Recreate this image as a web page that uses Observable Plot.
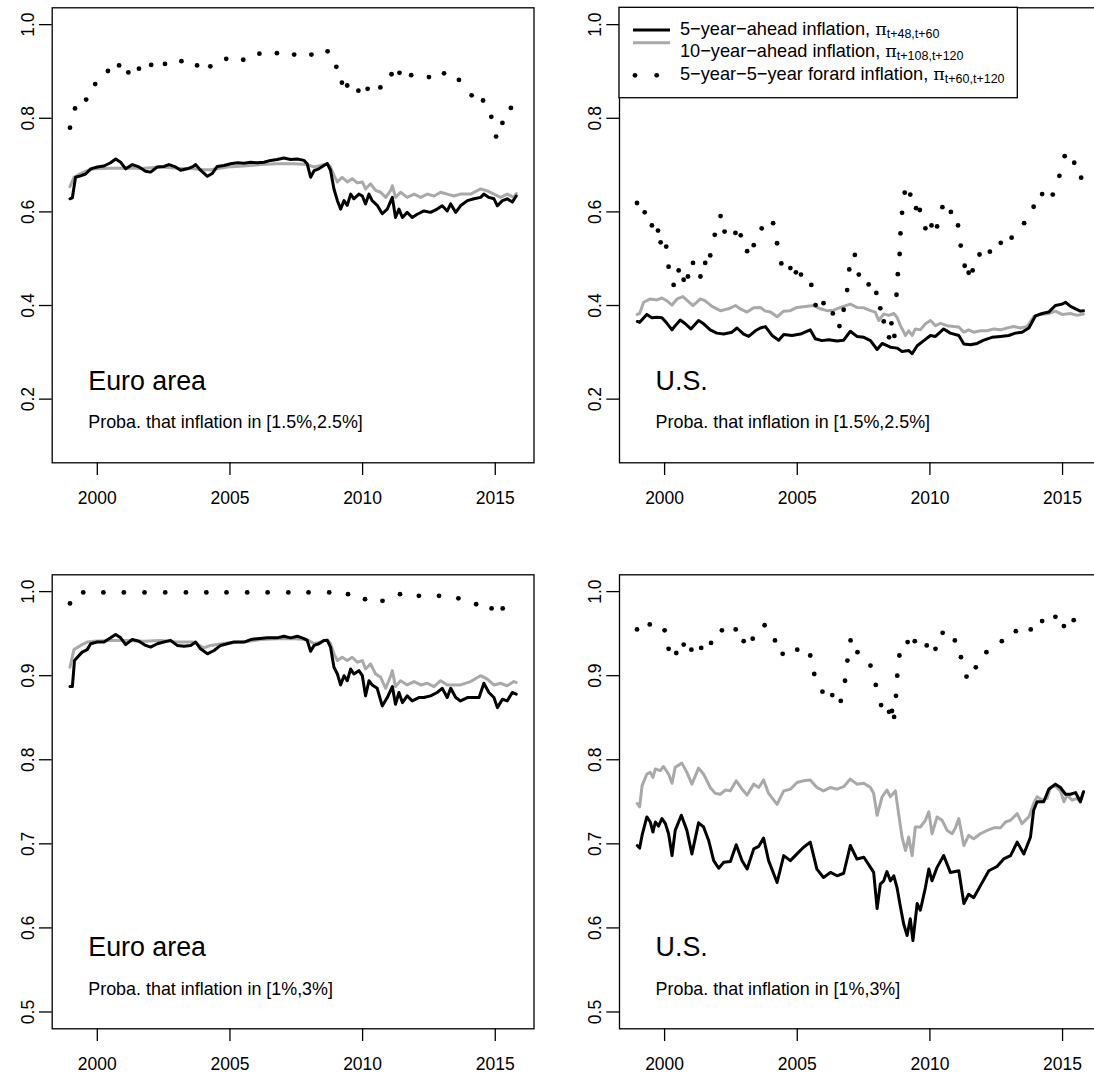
<!DOCTYPE html>
<html><head><meta charset="utf-8">
<script src="https://cdn.jsdelivr.net/npm/d3@7"></script>
<script src="https://cdn.jsdelivr.net/npm/@observablehq/plot@0.6"></script>
<style>
html,body{margin:0;padding:0;background:#fff;}
#wrap{position:relative;width:1094px;height:1075px;overflow:hidden;background:#fff;}
#wrap > svg{position:absolute;}
</style></head><body><div id="wrap"></div>
<script>
// ---------- DATA ----------
const xTicks = [2000, 2005, 2010, 2015];
const yTicksTop = [0.2, 0.4, 0.6, 0.8, 1.0];
const yTicksBottom = [0.5, 0.6, 0.7, 0.8, 0.9, 1.0];
const regions = ["Euro area", "U.S."];
const bands = ["Proba. that inflation in [1.5%,2.5%]", "Proba. that inflation in [1%,3%]"];

// Euro area, [1.5%,2.5%]
const euroNarrow5y = [[1998.97,0.628],[1999.06,0.630],[1999.18,0.674],[1999.37,0.677],[1999.56,0.681],[1999.75,0.692],[2000.00,0.696],[2000.25,0.698],[2000.50,0.705],[2000.69,0.713],[2000.88,0.706],[2001.07,0.692],[2001.32,0.701],[2001.57,0.696],[2001.82,0.687],[2002.01,0.685],[2002.26,0.696],[2002.51,0.697],[2002.70,0.701],[2002.95,0.696],[2003.14,0.689],[2003.39,0.692],[2003.58,0.696],[2003.71,0.701],[2003.89,0.689],[2004.15,0.676],[2004.33,0.682],[2004.52,0.697],[2004.77,0.699],[2005.03,0.703],[2005.28,0.705],[2005.53,0.704],[2005.78,0.706],[2006.03,0.705],[2006.28,0.706],[2006.53,0.710],[2006.78,0.712],[2007.03,0.715],[2007.29,0.712],[2007.54,0.713],[2007.79,0.710],[2007.91,0.703],[2008.04,0.674],[2008.17,0.688],[2008.35,0.692],[2008.54,0.699],[2008.67,0.703],[2008.79,0.689],[2008.92,0.649],[2009.05,0.624],[2009.17,0.606],[2009.30,0.624],[2009.42,0.614],[2009.55,0.638],[2009.67,0.628],[2009.86,0.638],[2009.99,0.634],[2010.11,0.617],[2010.24,0.638],[2010.36,0.624],[2010.55,0.614],[2010.74,0.596],[2010.93,0.606],[2011.12,0.631],[2011.24,0.588],[2011.37,0.606],[2011.50,0.588],[2011.68,0.599],[2011.87,0.588],[2012.06,0.595],[2012.31,0.602],[2012.56,0.599],[2012.81,0.606],[2013.00,0.613],[2013.19,0.602],[2013.32,0.617],[2013.51,0.599],[2013.69,0.613],[2013.95,0.624],[2014.20,0.628],[2014.45,0.631],[2014.57,0.638],[2014.76,0.631],[2014.95,0.628],[2015.08,0.613],[2015.27,0.624],[2015.45,0.628],[2015.64,0.621],[2015.79,0.634]];
const euroNarrow10y = [[1998.97,0.654],[1999.12,0.674],[1999.37,0.682],[1999.62,0.688],[1999.87,0.692],[2000.50,0.693],[2001.13,0.694],[2001.76,0.693],[2002.39,0.696],[2003.01,0.693],[2003.64,0.692],[2004.02,0.690],[2004.27,0.690],[2004.90,0.696],[2005.53,0.698],[2006.16,0.701],[2006.78,0.703],[2007.41,0.703],[2007.91,0.701],[2008.17,0.696],[2008.42,0.699],[2008.67,0.703],[2008.79,0.696],[2008.92,0.678],[2009.05,0.664],[2009.23,0.674],[2009.42,0.664],[2009.61,0.671],[2009.80,0.662],[2009.99,0.664],[2010.11,0.649],[2010.30,0.660],[2010.49,0.646],[2010.68,0.642],[2010.87,0.631],[2011.06,0.646],[2011.12,0.656],[2011.24,0.631],[2011.43,0.642],[2011.68,0.631],[2011.94,0.638],[2012.19,0.631],[2012.44,0.638],[2012.69,0.634],[2012.94,0.642],[2013.19,0.638],[2013.44,0.634],[2013.69,0.638],[2014.07,0.638],[2014.45,0.649],[2014.70,0.645],[2014.95,0.638],[2015.20,0.631],[2015.45,0.638],[2015.70,0.631],[2015.79,0.639]];
const euroNarrow5y5y = [[1998.97,0.780],[1999.16,0.821],[1999.58,0.840],[1999.92,0.873],[2000.40,0.901],[2000.82,0.913],[2001.17,0.898],[2001.57,0.906],[2002.03,0.914],[2002.55,0.916],[2003.17,0.922],[2003.76,0.913],[2004.26,0.911],[2004.86,0.927],[2005.50,0.925],[2006.11,0.938],[2006.77,0.939],[2007.42,0.936],[2008.07,0.936],[2008.68,0.943],[2009.01,0.910],[2009.22,0.876],[2009.42,0.870],[2009.84,0.859],[2010.19,0.863],[2010.67,0.866],[2011.09,0.894],[2011.39,0.897],[2011.83,0.892],[2012.50,0.888],[2013.07,0.896],[2013.63,0.882],[2014.11,0.849],[2014.54,0.838],[2014.85,0.803],[2015.03,0.761],[2015.27,0.790],[2015.59,0.822]];

// Euro area, [1%,3%]
const euroWide5y = [[1998.97,0.887],[1999.06,0.887],[1999.14,0.918],[1999.25,0.922],[1999.43,0.928],[1999.62,0.931],[1999.75,0.938],[2000.00,0.940],[2000.25,0.940],[2000.50,0.945],[2000.69,0.949],[2000.88,0.945],[2001.07,0.937],[2001.32,0.943],[2001.57,0.941],[2001.82,0.936],[2002.01,0.934],[2002.26,0.938],[2002.51,0.940],[2002.76,0.942],[2003.01,0.936],[2003.27,0.935],[2003.52,0.936],[2003.71,0.940],[2003.89,0.932],[2004.15,0.926],[2004.40,0.930],[2004.65,0.936],[2004.90,0.938],[2005.15,0.940],[2005.53,0.940],[2005.78,0.943],[2006.03,0.944],[2006.41,0.945],[2006.78,0.945],[2007.03,0.947],[2007.29,0.945],[2007.54,0.947],[2007.79,0.944],[2007.91,0.942],[2008.04,0.929],[2008.17,0.936],[2008.35,0.938],[2008.54,0.942],[2008.67,0.942],[2008.79,0.934],[2008.92,0.910],[2009.05,0.902],[2009.17,0.889],[2009.30,0.900],[2009.42,0.894],[2009.55,0.908],[2009.67,0.902],[2009.86,0.906],[2009.99,0.900],[2010.11,0.876],[2010.24,0.894],[2010.36,0.889],[2010.55,0.885],[2010.74,0.864],[2010.93,0.874],[2011.12,0.887],[2011.24,0.866],[2011.37,0.880],[2011.50,0.868],[2011.68,0.876],[2011.87,0.870],[2012.12,0.874],[2012.31,0.874],[2012.56,0.876],[2012.81,0.880],[2013.00,0.885],[2013.19,0.874],[2013.32,0.885],[2013.51,0.874],[2013.69,0.870],[2013.95,0.874],[2014.20,0.874],[2014.39,0.874],[2014.57,0.891],[2014.76,0.880],[2014.95,0.874],[2015.08,0.862],[2015.27,0.872],[2015.45,0.870],[2015.64,0.880],[2015.79,0.878]];
const euroWide10y = [[1998.97,0.910],[1999.12,0.931],[1999.37,0.936],[1999.62,0.940],[1999.87,0.941],[2000.50,0.942],[2001.13,0.942],[2001.76,0.941],[2002.39,0.942],[2003.01,0.940],[2003.64,0.940],[2004.02,0.933],[2004.27,0.936],[2004.90,0.939],[2005.53,0.940],[2006.16,0.943],[2006.78,0.944],[2007.41,0.944],[2007.91,0.943],[2008.17,0.938],[2008.42,0.940],[2008.67,0.943],[2008.79,0.938],[2008.92,0.926],[2009.05,0.918],[2009.23,0.922],[2009.42,0.918],[2009.61,0.922],[2009.80,0.916],[2009.99,0.918],[2010.11,0.908],[2010.30,0.914],[2010.49,0.902],[2010.68,0.898],[2010.87,0.885],[2011.06,0.900],[2011.12,0.906],[2011.24,0.887],[2011.43,0.894],[2011.68,0.889],[2011.94,0.893],[2012.19,0.889],[2012.44,0.891],[2012.69,0.887],[2012.94,0.894],[2013.19,0.889],[2013.44,0.889],[2013.69,0.889],[2014.07,0.893],[2014.45,0.900],[2014.70,0.896],[2014.95,0.889],[2015.20,0.891],[2015.45,0.888],[2015.70,0.893],[2015.79,0.892]];
const euroWide5y5y = [[1998.97,0.986],[1999.47,0.999],[2000.23,0.999],[2001.00,0.999],[2001.78,0.999],[2002.56,0.999],[2003.34,0.999],[2004.11,0.999],[2004.87,0.999],[2005.65,0.999],[2006.42,0.999],[2007.20,0.999],[2007.96,0.999],[2008.74,0.999],[2009.45,0.997],[2010.09,0.991],[2010.75,0.989],[2011.41,0.997],[2012.12,0.995],[2012.88,0.995],[2013.61,0.992],[2014.28,0.985],[2014.86,0.980],[2015.28,0.980]];

// U.S., [1.5%,2.5%]
const usNarrow5y = [[1998.97,0.366],[1999.06,0.364],[1999.33,0.381],[1999.52,0.374],[1999.71,0.375],[1999.90,0.374],[2000.09,0.362],[2000.28,0.348],[2000.40,0.357],[2000.59,0.369],[2000.78,0.361],[2000.99,0.350],[2001.28,0.368],[2001.47,0.361],[2001.72,0.348],[2001.97,0.341],[2002.23,0.339],[2002.54,0.343],[2002.73,0.352],[2002.98,0.339],[2003.17,0.334],[2003.42,0.346],[2003.61,0.352],[2003.80,0.355],[2004.05,0.336],[2004.30,0.326],[2004.49,0.338],[2004.80,0.336],[2005.12,0.339],[2005.49,0.348],[2005.68,0.329],[2005.93,0.325],[2006.19,0.327],[2006.50,0.324],[2006.75,0.326],[2007.00,0.345],[2007.25,0.334],[2007.51,0.332],[2007.76,0.325],[2008.01,0.306],[2008.20,0.319],[2008.51,0.311],[2008.76,0.309],[2008.95,0.302],[2009.20,0.304],[2009.33,0.297],[2009.52,0.314],[2009.77,0.325],[2010.02,0.336],[2010.21,0.334],[2010.52,0.350],[2010.77,0.341],[2011.09,0.336],[2011.28,0.318],[2011.53,0.316],[2011.78,0.319],[2012.03,0.326],[2012.34,0.332],[2012.66,0.334],[2012.97,0.336],[2013.22,0.341],[2013.47,0.343],[2013.73,0.352],[2013.98,0.378],[2014.23,0.383],[2014.48,0.386],[2014.73,0.400],[2014.98,0.403],[2015.11,0.407],[2015.30,0.398],[2015.49,0.393],[2015.67,0.388],[2015.79,0.389]];
const usNarrow10y = [[1998.97,0.381],[1999.06,0.383],[1999.21,0.407],[1999.46,0.414],[1999.71,0.412],[1999.90,0.416],[2000.09,0.410],[2000.28,0.401],[2000.47,0.414],[2000.69,0.419],[2000.87,0.410],[2001.07,0.400],[2001.35,0.414],[2001.53,0.410],[2001.79,0.398],[2002.10,0.389],[2002.41,0.393],[2002.67,0.400],[2002.85,0.393],[2003.11,0.386],[2003.36,0.395],[2003.61,0.396],[2003.80,0.388],[2003.99,0.386],[2004.24,0.376],[2004.49,0.388],[2004.74,0.389],[2004.99,0.396],[2005.31,0.398],[2005.62,0.400],[2005.87,0.393],[2006.12,0.389],[2006.37,0.390],[2006.63,0.396],[2007.00,0.403],[2007.25,0.396],[2007.51,0.395],[2007.76,0.389],[2007.94,0.386],[2008.07,0.368],[2008.26,0.382],[2008.45,0.379],[2008.64,0.383],[2008.76,0.375],[2008.89,0.357],[2009.08,0.336],[2009.20,0.346],[2009.33,0.336],[2009.45,0.350],[2009.64,0.348],[2009.83,0.361],[2010.02,0.368],[2010.21,0.357],[2010.40,0.362],[2010.65,0.357],[2010.90,0.355],[2011.09,0.354],[2011.28,0.343],[2011.46,0.348],[2011.65,0.343],[2011.90,0.346],[2012.16,0.346],[2012.41,0.350],[2012.66,0.348],[2012.91,0.352],[2013.16,0.355],[2013.41,0.352],[2013.66,0.355],[2013.91,0.376],[2014.17,0.381],[2014.48,0.383],[2014.73,0.388],[2014.98,0.381],[2015.30,0.383],[2015.55,0.379],[2015.79,0.382]];
const usNarrow5y5y = [[1998.96,0.619],[1999.25,0.599],[1999.52,0.571],[1999.75,0.560],[1999.85,0.535],[2000.06,0.526],[2000.15,0.483],[2000.34,0.444],[2000.53,0.475],[2000.72,0.455],[2000.88,0.462],[2001.07,0.491],[2001.35,0.462],[2001.53,0.491],[2001.72,0.507],[2001.89,0.551],[2002.11,0.591],[2002.26,0.558],[2002.67,0.555],[2002.87,0.550],[2003.11,0.516],[2003.36,0.529],[2003.66,0.565],[2004.09,0.576],[2004.24,0.533],[2004.40,0.490],[2004.74,0.480],[2004.95,0.471],[2005.14,0.466],[2005.53,0.444],[2005.69,0.401],[2005.99,0.405],[2006.34,0.383],[2006.59,0.356],[2006.75,0.391],[2006.88,0.433],[2006.96,0.477],[2007.17,0.508],[2007.32,0.466],[2007.69,0.445],[2007.98,0.427],[2008.13,0.394],[2008.26,0.366],[2008.46,0.332],[2008.55,0.362],[2008.66,0.335],[2008.74,0.423],[2008.79,0.467],[2008.86,0.510],[2008.89,0.554],[2008.95,0.598],[2009.05,0.641],[2009.26,0.637],[2009.48,0.608],[2009.62,0.604],[2009.83,0.565],[2010.06,0.571],[2010.27,0.569],[2010.47,0.610],[2010.79,0.600],[2011.06,0.571],[2011.16,0.528],[2011.31,0.485],[2011.46,0.470],[2011.61,0.475],[2011.87,0.509],[2012.26,0.515],[2012.67,0.534],[2013.08,0.545],[2013.55,0.576],[2013.91,0.611],[2014.23,0.638],[2014.63,0.637],[2014.88,0.677],[2015.08,0.719],[2015.44,0.705],[2015.70,0.673]];

// U.S., [1%,3%]
const usWide5y = [[1998.97,0.698],[1999.06,0.695],[1999.15,0.710],[1999.33,0.732],[1999.46,0.726],[1999.56,0.714],[1999.65,0.726],[1999.77,0.721],[1999.90,0.730],[2000.03,0.724],[2000.15,0.712],[2000.28,0.686],[2000.40,0.716],[2000.63,0.734],[2000.84,0.716],[2001.03,0.688],[2001.28,0.725],[2001.47,0.720],[2001.66,0.704],[2001.85,0.680],[2002.04,0.671],[2002.23,0.678],[2002.48,0.679],[2002.70,0.699],[2002.92,0.680],[2003.11,0.670],[2003.36,0.694],[2003.55,0.697],[2003.73,0.707],[2003.92,0.680],[2004.24,0.654],[2004.49,0.686],[2004.74,0.680],[2004.99,0.688],[2005.24,0.696],[2005.49,0.702],[2005.74,0.670],[2005.99,0.660],[2006.25,0.666],[2006.50,0.662],[2006.75,0.665],[2007.00,0.698],[2007.25,0.682],[2007.51,0.684],[2007.76,0.672],[2007.88,0.666],[2008.01,0.623],[2008.13,0.652],[2008.26,0.656],[2008.38,0.667],[2008.51,0.656],[2008.64,0.662],[2008.76,0.648],[2008.89,0.625],[2009.01,0.605],[2009.14,0.591],[2009.26,0.611],[2009.36,0.585],[2009.52,0.629],[2009.64,0.621],[2009.83,0.648],[2009.96,0.670],[2010.08,0.656],[2010.27,0.672],[2010.52,0.686],[2010.77,0.666],[2011.09,0.668],[2011.28,0.629],[2011.46,0.640],[2011.65,0.636],[2011.90,0.650],[2012.22,0.668],[2012.53,0.673],[2012.78,0.682],[2013.04,0.686],[2013.29,0.702],[2013.54,0.688],[2013.79,0.708],[2013.91,0.740],[2014.04,0.750],[2014.29,0.750],[2014.48,0.765],[2014.73,0.771],[2014.92,0.767],[2015.11,0.759],[2015.30,0.759],[2015.49,0.761],[2015.67,0.750],[2015.79,0.762]];
const usWide10y = [[1998.97,0.748],[1999.06,0.744],[1999.15,0.769],[1999.33,0.783],[1999.46,0.785],[1999.56,0.779],[1999.65,0.789],[1999.84,0.787],[1999.96,0.792],[2000.15,0.783],[2000.28,0.772],[2000.40,0.791],[2000.65,0.796],[2000.84,0.785],[2001.03,0.771],[2001.28,0.790],[2001.47,0.783],[2001.72,0.767],[2001.91,0.760],[2002.10,0.759],[2002.29,0.764],[2002.48,0.763],[2002.70,0.775],[2002.92,0.765],[2003.11,0.758],[2003.36,0.771],[2003.55,0.767],[2003.73,0.776],[2003.92,0.760],[2004.24,0.747],[2004.49,0.763],[2004.74,0.765],[2004.99,0.773],[2005.24,0.775],[2005.49,0.776],[2005.74,0.767],[2005.99,0.763],[2006.25,0.767],[2006.50,0.765],[2006.75,0.768],[2007.00,0.777],[2007.25,0.771],[2007.51,0.772],[2007.76,0.767],[2007.88,0.760],[2008.01,0.734],[2008.20,0.756],[2008.38,0.764],[2008.51,0.756],[2008.70,0.763],[2008.82,0.736],[2008.95,0.708],[2009.08,0.692],[2009.20,0.708],[2009.33,0.686],[2009.45,0.720],[2009.64,0.720],[2009.83,0.728],[2009.96,0.738],[2010.08,0.712],[2010.27,0.732],[2010.46,0.728],[2010.65,0.716],[2010.84,0.712],[2010.96,0.719],[2011.09,0.730],[2011.28,0.698],[2011.46,0.710],[2011.65,0.706],[2011.90,0.712],[2012.16,0.716],[2012.41,0.719],[2012.66,0.719],[2012.85,0.726],[2013.04,0.728],[2013.29,0.736],[2013.47,0.724],[2013.73,0.732],[2013.91,0.748],[2014.04,0.756],[2014.23,0.752],[2014.42,0.754],[2014.54,0.767],[2014.73,0.769],[2014.92,0.763],[2015.05,0.750],[2015.17,0.758],[2015.36,0.752],[2015.55,0.754],[2015.67,0.750],[2015.79,0.762]];
const usWide5y5y = [[1998.96,0.955],[1999.44,0.961],[2000.00,0.954],[2000.15,0.932],[2000.44,0.927],[2000.72,0.937],[2001.01,0.931],[2001.38,0.933],[2001.75,0.939],[2002.16,0.954],[2002.68,0.955],[2002.98,0.941],[2003.32,0.944],[2003.77,0.960],[2004.16,0.942],[2004.45,0.926],[2005.00,0.931],[2005.49,0.924],[2005.64,0.902],[2005.95,0.881],[2006.32,0.877],[2006.64,0.870],[2006.80,0.894],[2006.89,0.918],[2007.01,0.942],[2007.27,0.928],[2007.76,0.912],[2007.96,0.889],[2008.16,0.865],[2008.46,0.857],[2008.57,0.858],[2008.65,0.851],[2008.72,0.876],[2008.77,0.900],[2008.85,0.924],[2009.16,0.940],[2009.43,0.941],[2009.88,0.936],[2010.21,0.932],[2010.48,0.951],[2010.94,0.942],[2011.17,0.922],[2011.38,0.899],[2011.73,0.910],[2012.13,0.928],[2012.71,0.941],[2013.24,0.953],[2013.80,0.955],[2014.23,0.965],[2014.73,0.970],[2015.05,0.959],[2015.42,0.966]];

const legendEntries = [
  {label: "5\u2212year\u2212ahead inflation, ", sub: "t+48,t+60", kind: "line", color: "#000000"},
  {label: "10\u2212year\u2212ahead inflation, ", sub: "t+108,t+120", kind: "line", color: "#a9a9a9"},
  {label: "5\u2212year\u22125\u2212year forard inflation, ", sub: "t+60,t+120", kind: "dots", color: "#000000"}
];

// ---------- DRAWING ----------
const FONT = "'Liberation Sans', Arial, Helvetica, sans-serif";
const wrap = document.getElementById("wrap");
const rows = pairs => pairs.map(([t, v]) => ({t, v}));
const GREY = "#a9a9a9";

function panel(o) {
  const chart = Plot.plot({
    width: o.width, height: o.height,
    marginLeft: o.mL, marginRight: o.mR, marginTop: o.mT, marginBottom: o.mB,
    style: {fontFamily: FONT, fontSize: "17px", background: "transparent", color: "black", overflow: "visible"},
    x: {type: "linear", domain: [1998.30, 2016.46]},
    y: {type: "linear", domain: o.yDomain},
    marks: [
      Plot.line(rows(o.grey), {x: "t", y: "v", stroke: GREY, strokeWidth: 3, strokeLinejoin: "round", strokeLinecap: "round"}),
      Plot.line(rows(o.black), {x: "t", y: "v", stroke: "black", strokeWidth: 3, strokeLinejoin: "round", strokeLinecap: "round"}),
      Plot.dot(rows(o.dots), {x: "t", y: "v", r: 2.4, fill: "black"}),
      Plot.text([o.region], {x: 1999.66, y: o.regionY, text: d => d, textAnchor: "start", lineAnchor: "top", fontSize: 26.8, fill: "black"}),
      Plot.text([o.band], {x: 1999.66, y: o.bandY, text: d => d, textAnchor: "start", lineAnchor: "top", fontSize: 17.9, fill: "black"}),
      Plot.frame({stroke: "black", strokeWidth: 1.3}),
      Plot.axisX({ticks: xTicks, tickSize: 12.7, tickPadding: 16, tickFormat: d => String(d), label: null, strokeWidth: 1.3, fontSize: 17.5}),
      Plot.axisY({ticks: o.yTicks, tickSize: 12.7, tickFormat: () => "", label: null, strokeWidth: 1.3}),
      Plot.text(o.yTicks, {y: d => d, text: d => d.toFixed(1), frameAnchor: "left", dx: -24, rotate: -90, textAnchor: "middle", lineAnchor: "middle", fontSize: 17.5, fill: "black"})
    ]
  });
  chart.style.left = o.left + "px";
  chart.style.top = o.top + "px";
  wrap.appendChild(chart);
}

const topDomain = [0.064, 1.036];
const bottomDomain = [0.48, 1.02];

panel({left: 0, top: 0, width: 547, height: 537, mL: 51.7, mR: 13.5, mT: 7.3, mB: 74.7,
  yDomain: topDomain, yTicks: yTicksTop, black: euroNarrow5y, grey: euroNarrow10y, dots: euroNarrow5y5y,
  region: regions[0], band: bands[0], regionY: 0.261, bandY: 0.165});
panel({left: 547, top: 0, width: 560, height: 537, mL: 72, mR: 6.2, mT: 7.3, mB: 74.7,
  yDomain: topDomain, yTicks: yTicksTop, black: usNarrow5y, grey: usNarrow10y, dots: usNarrow5y5y,
  region: regions[1], band: bands[0], regionY: 0.261, bandY: 0.165});
panel({left: 0, top: 537, width: 547, height: 538, mL: 51.7, mR: 13.5, mT: 37.3, mB: 46.7,
  yDomain: bottomDomain, yTicks: yTicksBottom, black: euroWide5y, grey: euroWide10y, dots: euroWide5y5y,
  region: regions[0], band: bands[1], regionY: 0.589, bandY: 0.535});
panel({left: 547, top: 537, width: 560, height: 538, mL: 72, mR: 6.2, mT: 37.3, mB: 46.7,
  yDomain: bottomDomain, yTicks: yTicksBottom, black: usWide5y, grey: usWide10y, dots: usWide5y5y,
  region: regions[1], band: bands[1], regionY: 0.589, bandY: 0.535});

// ---------- LEGEND (top-right panel, top-left corner of its box) ----------
const lg = d3.create("svg").attr("width", 1094).attr("height", 110)
  .style("left", "0px").style("top", "0px").style("font-family", FONT);
lg.append("rect").attr("x", 619).attr("y", 7.3).attr("width", 398.3).attr("height", 90.4)
  .attr("fill", "white").attr("stroke", "black").attr("stroke-width", 1.3);
const baseY = [35, 57, 80];
const symY = [30, 42.7, 75.3];
legendEntries.forEach((e, i) => {
  if (e.kind === "line") {
    lg.append("line").attr("x1", 633).attr("x2", 670).attr("y1", symY[i]).attr("y2", symY[i])
      .attr("stroke", e.color).attr("stroke-width", 3);
  } else {
    [635, 656.7].forEach(cx => lg.append("circle").attr("cx", cx).attr("cy", symY[i]).attr("r", 2.4).attr("fill", e.color));
  }
  const t = lg.append("text").attr("x", 680).attr("y", baseY[i]).attr("font-size", 18.2).attr("fill", "black");
  t.append("tspan").text(e.label);
  t.append("tspan").attr("font-family", "'DejaVu Serif', 'Liberation Serif', serif").attr("font-size", 17.5).text("\u03C0");
  t.append("tspan").attr("font-size", 12.5).attr("dy", 3).text(e.sub);
});
wrap.appendChild(lg.node());
</script></body></html>
